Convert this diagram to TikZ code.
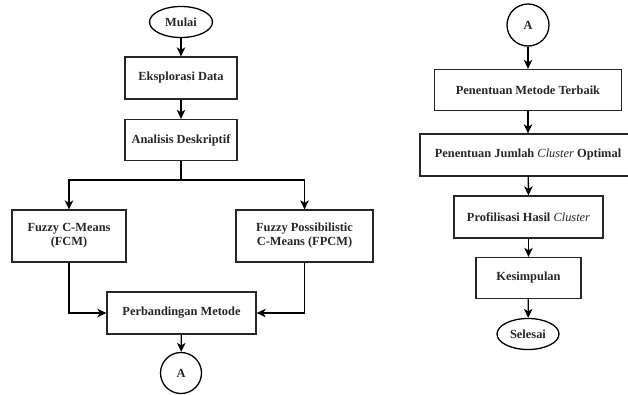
\documentclass[tikz,border=0pt]{standalone}
\usepackage{fontspec}
\setmainfont{Liberation Serif}
\usetikzlibrary{shapes.geometric,arrows.meta}
\begin{document}
\begin{tikzpicture}[x=1pt,y=-1pt,
  every node/.style={font=\fontsize{12.4}{14}\selectfont\bfseries, text=black!85, align=center},
  procbox/.style={draw=black!85, line width=1.3pt, rectangle, inner sep=0pt},
  termin/.style={draw=black, line width=1.3pt, ellipse, inner sep=0pt, minimum width=63pt, minimum height=31pt},
  conn/.style={draw=black, line width=1.3pt, circle, inner sep=0pt, minimum size=41pt},
  flow/.style={draw=black, line width=1.3pt, -{Stealth[length=9pt,width=8.5pt,inset=2.5pt]}}
]
\useasboundingbox (0,0) rectangle (628,394);
% left column
\node[termin] (mulai) at (181,22) {Mulai};
\node[procbox, minimum width=112pt, minimum height=42pt] (eks) at (181,78) {Eksplorasi Data};
\node[procbox, minimum width=112pt, minimum height=41pt] (ana) at (181,140) {Analisis Deskriptif};
\coordinate (br) at (181,180);
\node[procbox, minimum width=114pt, minimum height=52pt] (fcm) at (69,236) {Fuzzy C-Means\\(FCM)};
\node[procbox, minimum width=137pt, minimum height=52pt] (fpcm) at (304.5,236) {Fuzzy Possibilistic\\C-Means (FPCM)};
\node[procbox, minimum width=149pt, minimum height=42pt] (perb) at (181.5,313) {Perbandingan Metode};
\node[conn] (a1) at (181,373) {A};
% right column
\node[conn, minimum size=42pt] (a2) at (528,25) {A};
\node[procbox, minimum width=187pt, minimum height=41pt] (pmt) at (528,90) {Penentuan Metode Terbaik};
\node[procbox, minimum width=216pt, minimum height=42pt] (pjc) at (528,155) {Penentuan Jumlah {\mdseries\itshape Cluster} Optimal};
\node[procbox, minimum width=149pt, minimum height=42pt] (phc) at (528.5,217) {Profilisasi Hasil {\mdseries\itshape Cluster}};
\node[procbox, minimum width=105pt, minimum height=41pt] (kes) at (528.5,278) {Kesimpulan};
\node[termin, minimum width=62pt] (sel) at (528,334) {Selesai};
% connectors left
\draw[flow] (mulai) -- (eks);
\draw[flow] (eks) -- (ana);
\draw[line width=1.3pt] (ana.south) -- (br);
\draw[flow] (br) -| (fcm.north);
\draw[flow] (br) -| (fpcm.north);
\draw[flow] (fcm.south) |- (perb.west);
\draw[flow] (fpcm.south) |- (perb.east);
\draw[flow] (perb) -- (a1);
% connectors right
\draw[flow] (a2) -- (pmt);
\draw[flow] (pmt) -- (pjc);
\draw[flow] (pjc) -- (phc.north);
\draw[flow] (phc) -- (kes);
\draw[flow] (kes) -- (sel);
\end{tikzpicture}
\end{document}
